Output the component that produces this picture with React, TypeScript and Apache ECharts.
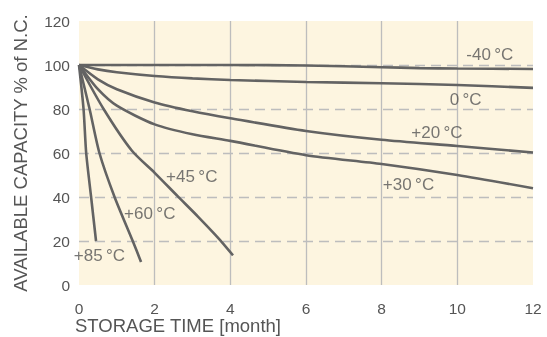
import React, { useEffect, useRef } from "react";
import * as echarts from "echarts";

const xTicks = [0, 2, 4, 6, 8, 10, 12];
const yTicks = [0, 20, 40, 60, 80, 100, 120];

const curveM40: [number, number][] = [[0, 100], [2, 100], [4, 100], [6, 99.8], [8, 99], [9, 98.6], [10, 98.4], [12, 98.2]];
const curve0: [number, number][] = [[0, 100], [0.5, 98], [1, 96.7], [2, 95], [3, 93.9], [4, 93.2], [6, 92.3], [8, 91.7], [10, 90.9], [12, 89.6]];
const curve20: [number, number][] = [[0, 100], [0.5, 93.5], [1, 89], [2, 83], [3, 79], [4, 75.8], [6, 70], [8, 66], [10, 63.2], [12, 60.2]];
const curve30: [number, number][] = [[0, 100], [0.5, 89], [1, 81.5], [2, 73], [3, 68.5], [4, 65.5], [6, 59], [8, 55], [10, 50], [12, 44]];
const curve45: [number, number][] = [[0, 100], [0.65, 80], [1.4, 61], [2, 51], [2.6, 40.5], [3.15, 31], [3.7, 21], [4.07, 13.5]];
const curve60: [number, number][] = [[0, 100], [0.28, 80], [0.54, 60], [0.94, 40], [1.42, 20], [1.64, 10.5]];
const curve85: [number, number][] = [[0, 100], [0.12, 80], [0.19, 60], [0.32, 40], [0.45, 20]];

const curveNames = ["-40\u2009°C", "0\u2009°C", "+20\u2009°C", "+30\u2009°C", "+45\u2009°C", "+60\u2009°C", "+85\u2009°C"];
const labelPositions: [number, number][] = [[10.86, 105], [10.22, 84.5], [9.46, 69.5], [8.71, 45.9], [2.98, 49.5], [1.87, 32.7], [0.54, 13.6]];

const curves = [curveM40, curve0, curve20, curve30, curve45, curve60, curve85];

const FONT = "'Liberation Sans', Arial, sans-serif";
const TEXT = "#555555";
const LINE = "#636363";

export default function App() {
  const ref = useRef<HTMLDivElement>(null);
  useEffect(() => {
    if (!ref.current) return;
    const chart = echarts.init(ref.current, undefined, { renderer: "svg" });
    const lineSeries = curves.map((c, i) => ({
      type: "line",
      name: curveNames[i],
      data: c,
      smooth: 0.25,
      showSymbol: false,
      symbol: "none",
      lineStyle: { color: LINE, width: 2.6 },
      z: 3,
    }));
    chart.setOption({
      animation: false,
      grid: {
        left: 79,
        right: 14,
        top: 21,
        bottom: 52,
        show: true,
        backgroundColor: "#fdf5e0",
        borderWidth: 0,
      },
      xAxis: {
        type: "value",
        min: 0,
        max: 12,
        interval: 2,
        axisLine: { show: false },
        axisTick: { show: false },
        axisLabel: { color: TEXT, fontSize: 15.5, fontFamily: FONT, margin: 15, formatter: (v: number) => (xTicks.includes(v) ? String(v) : "") },
        splitLine: { show: true, showMinLine: false, showMaxLine: false, lineStyle: { color: "#bdbdbd", width: 1.3, type: "solid" } },
      },
      yAxis: {
        type: "value",
        min: 0,
        max: 120,
        interval: 20,
        axisLine: { show: false },
        axisTick: { show: false },
        axisLabel: { color: TEXT, fontSize: 15.5, fontFamily: FONT, margin: 9, formatter: (v: number) => (yTicks.includes(v) ? String(v) : "") },
        splitLine: { show: true, showMinLine: false, showMaxLine: false, lineStyle: { color: "#bdbdbd", width: 1.3, type: [10, 6] } },
        name: "AVAILABLE CAPACITY % of N.C.",
        nameLocation: "middle",
        nameGap: 49,
        nameTextStyle: { color: TEXT, fontSize: 18.5, fontFamily: FONT },
      },
      graphic: [
        {
          type: "text",
          left: 75,
          top: 316,
          style: { text: "STORAGE TIME [month]", fill: TEXT, fontSize: 18.5, fontFamily: FONT },
        },
      ],
      series: [
        ...lineSeries,
        {
          type: "scatter",
          data: labelPositions.map((p, i) => ({ value: p, name: curveNames[i] })),
          symbolSize: 0,
          silent: true,
          z: 4,
          label: {
            show: true,
            position: "inside",
            formatter: (p: any) => p.name,
            color: TEXT,
            fontSize: 17,
            fontFamily: FONT,
          },
        },
      ],
    });
    return () => chart.dispose();
  }, []);
  return <div ref={ref} style={{ position: "fixed", left: 0, top: 0, width: 547, height: 337 }} />;
}
